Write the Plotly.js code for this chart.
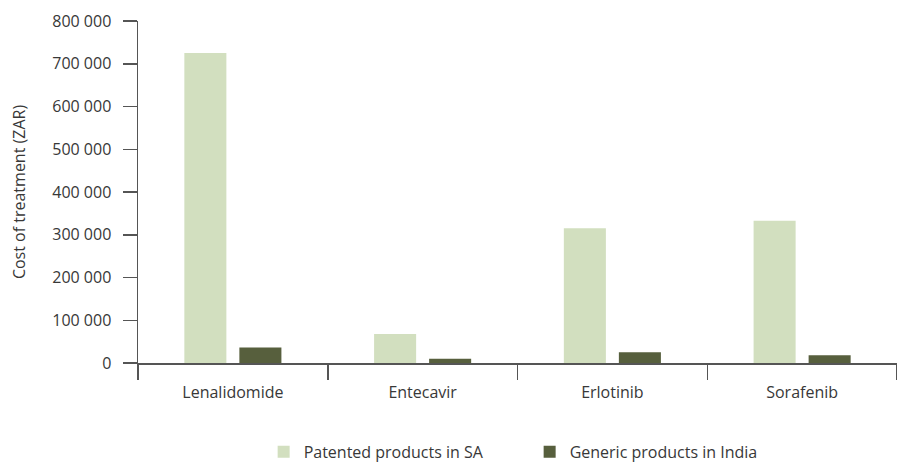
<!DOCTYPE html>
<html>
<head>
<meta charset="utf-8">
<script src="https://cdn.plot.ly/plotly-3.0.1.min.js"></script>
<style>html,body{margin:0;padding:0;background:#fff;}#chart{width:897px;height:463px;}</style>
</head>
<body>
<div id="chart"></div>
<script>
const drugs = ["Lenalidomide", "Entecavir", "Erlotinib", "Sorafenib"];
const patentedSA = [725000, 68000, 315000, 333000];
const genericIndia = [36000, 10000, 25000, 18000];
const seriesNames = ["Patented products in SA", "Generic products in India"];
const yTickVals = [0, 100000, 200000, 300000, 400000, 500000, 600000, 700000, 800000];

const FONT = "Open Sans, Noto Sans, sans-serif";
const TXT = "#383838";
const AX = "#555555";

const traces = [
  {type: "bar", name: seriesNames[0], x: drugs, y: patentedSA,
   marker: {color: "#d2dfbf", line: {width: 0}}},
  {type: "bar", name: seriesNames[1], x: drugs, y: genericIndia,
   marker: {color: "#575f3d", line: {width: 0}}}
];

const layout = {
  width: 897, height: 463,
  margin: {l: 138, r: 0, t: 21, b: 100, autoexpand: false},
  paper_bgcolor: "#fff", plot_bgcolor: "#fff",
  font: {family: FONT, size: 16, color: TXT},
  separators: ". ",
  barmode: "group",
  bargap: 0.42,
  bargroupgap: 0.236,
  showlegend: true,
  legend: {orientation: "h", x: 0.516, xanchor: "center", y: -0.26, yanchor: "middle",
           font: {family: FONT, size: 16, color: TXT}, entrywidth: 221, entrywidthmode: "pixels",
           traceorder: "normal"},
  xaxis: {
    type: "category",
    showline: true, linecolor: AX, linewidth: 1.5,
    ticks: "outside", tickson: "boundaries", ticklen: 15, tickcolor: AX, tickwidth: 1.5,
    showgrid: false, zeroline: false,
    tickfont: {family: FONT, size: 16, color: TXT},
    ticklabelstandoff: 14
  },
  yaxis: {
    range: [0, 800000],
    tickvals: yTickVals, tickformat: ",d",
    showline: true, linecolor: AX, linewidth: 1.5,
    ticks: "outside", ticklen: 14, tickcolor: AX, tickwidth: 1.5,
    showgrid: false, zeroline: false,
    tickfont: {family: FONT, size: 16, color: TXT},
    ticklabelstandoff: 8,
    title: {text: "Cost of treatment (ZAR)", font: {family: FONT, size: 16, color: TXT}, standoff: 22}
  }
};

Plotly.newPlot("chart", traces, layout, {displayModeBar: false, staticPlot: true});
</script>
</body>
</html>
